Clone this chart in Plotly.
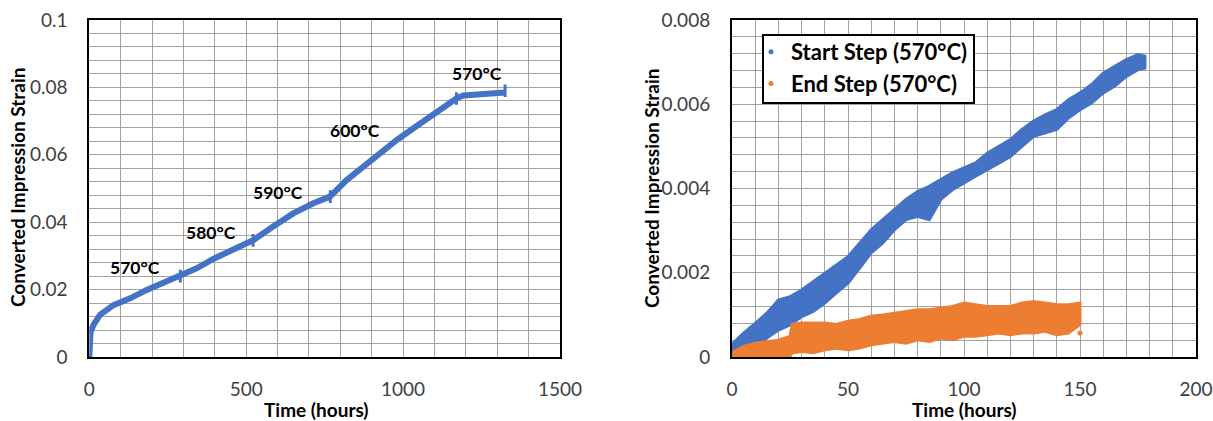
import plotly.graph_objects as go

# ---------------- Left chart data ----------------
left_time = [0, 1, 4, 13, 34, 77, 130, 183, 236, 289, 342, 395, 448, 523, 586, 650,
             714, 767, 820, 873, 926, 980, 1033, 1086, 1139, 1171, 1192, 1245, 1325]
left_strain = [0.0, 0.0045, 0.0075, 0.0095, 0.0125, 0.0154, 0.0174, 0.0199, 0.0219, 0.0240,
               0.0263, 0.0291, 0.0315, 0.0347, 0.0387, 0.0426, 0.0456, 0.0476, 0.0525, 0.0565,
               0.0606, 0.0644, 0.0679, 0.0713, 0.0745, 0.0768, 0.0776, 0.0780, 0.0785]
step_time = [290, 522, 768, 1170, 1325]
step_strain = [0.0240, 0.0346, 0.0476, 0.0767, 0.0790]
temp_labels = ["570°C", "580°C", "590°C", "600°C", "570°C"]
temp_label_time = [146, 388, 601, 847, 1235]
temp_label_strain = [0.0267, 0.0368, 0.0487, 0.0671, 0.0840]

# ---------------- Right chart data (band envelopes) ----------------
start_time = [0, 5, 10, 15, 20, 25, 30, 35, 40, 45, 50, 55, 60, 65, 70, 75, 80, 85, 90, 95,
              100, 105, 110, 115, 120, 125, 130, 135, 140, 145, 150, 155, 160, 165, 170, 175, 178]
start_high = [0.0003, 0.00057, 0.0008, 0.00104, 0.00135, 0.00143, 0.00159, 0.00179, 0.0020,
              0.00218, 0.00238, 0.0027, 0.00302, 0.00326, 0.0035, 0.00374, 0.00393, 0.00405,
              0.00421, 0.00437, 0.00449, 0.00461, 0.00484, 0.0050, 0.00516, 0.0054, 0.0056,
              0.00575, 0.00587, 0.00611, 0.00627, 0.00647, 0.00674, 0.0069, 0.00706, 0.00718, 0.00714]
start_low = [0.0, 0.00017, 0.00025, 0.00045, 0.00064, 0.00076, 0.00096, 0.00108, 0.00128,
             0.00152, 0.00175, 0.0021, 0.00247, 0.00271, 0.00302, 0.00326, 0.00334, 0.00326,
             0.00374, 0.00397, 0.00413, 0.00429, 0.00445, 0.0046, 0.00476, 0.0050, 0.00524,
             0.00532, 0.0054, 0.00567, 0.00587, 0.00603, 0.00627, 0.00643, 0.00666, 0.00682, 0.00686]

end_time = [0, 5, 10, 15, 20, 25, 26, 30, 35, 40, 45, 50, 55, 60, 65, 70, 75, 80, 85, 90, 95,
            100, 105, 110, 115, 120, 125, 130, 135, 140, 145, 150]
end_high = [0.0001, 0.00025, 0.00033, 0.00037, 0.0004, 0.00049, 0.00078, 0.00081, 0.00081,
            0.00081, 0.00077, 0.00085, 0.00089, 0.00097, 0.0010, 0.00104, 0.00108, 0.00112,
            0.00112, 0.00116, 0.0012, 0.00128, 0.00124, 0.0012, 0.0012, 0.0012, 0.00128,
            0.00132, 0.00128, 0.00124, 0.00124, 0.00128]
end_low = [0.0, 0.0, 0.0, 0.0, 0.0, 0.00002, 0.0001, 0.00013, 0.0001, 0.00017, 0.00021, 0.00017,
           0.00021, 0.00029, 0.00033, 0.00037, 0.00033, 0.00041, 0.00037, 0.00045, 0.00041,
           0.00049, 0.00049, 0.00053, 0.00057, 0.00053, 0.00057, 0.00057, 0.00061, 0.00053,
           0.00057, 0.00077]
end_outlier_time = [150]
end_outlier_strain = [0.00057]

BLUE = "#4472C4"
ORANGE = "#ED7D31"
FONT = "Lato"
GRID = "#a3a3a3"
TICKC = "#404040"

fig = go.Figure()

# left chart
fig.add_trace(go.Scatter(x=left_time, y=left_strain, mode="lines",
                         line=dict(color=BLUE, width=6), showlegend=False,
                         xaxis="x", yaxis="y"))
fig.add_trace(go.Scatter(x=[left_time[0]], y=[left_strain[0]], mode="markers",
                         marker=dict(color=BLUE, size=6), showlegend=False,
                         xaxis="x", yaxis="y"))
fig.add_trace(go.Scatter(x=step_time, y=step_strain, mode="markers",
                         marker=dict(symbol="line-ns-open", size=9, color=BLUE,
                                     line=dict(color=BLUE, width=3)),
                         showlegend=False, xaxis="x", yaxis="y"))

# right chart bands
def band(t, hi, lo, color):
    return go.Scatter(x=list(t) + list(t)[::-1], y=list(hi) + list(lo)[::-1],
                      mode="lines", fill="toself", fillcolor=color,
                      line=dict(color=color, width=3), showlegend=False,
                      xaxis="x2", yaxis="y2", hoverinfo="skip")

fig.add_trace(band(start_time, start_high, start_low, BLUE))
fig.add_trace(band(end_time, end_high, end_low, ORANGE))
fig.add_trace(go.Scatter(x=end_outlier_time, y=end_outlier_strain, mode="markers",
                         marker=dict(color=ORANGE, size=5), showlegend=False,
                         xaxis="x2", yaxis="y2"))
# legend entries
fig.add_trace(go.Scatter(x=[None], y=[None], mode="markers", name="Start Step (570°C)",
                         marker=dict(color=BLUE, size=5), xaxis="x2", yaxis="y2"))
fig.add_trace(go.Scatter(x=[None], y=[None], mode="markers", name="End Step (570°C)",
                         marker=dict(color=ORANGE, size=5), xaxis="x2", yaxis="y2"))

W, H = 1213, 421
ydom = [(H - 357) / H, (H - 20) / H]

def xax(dom, rng, dtick, minor, anchor):
    return dict(domain=dom, range=rng, dtick=dtick, tick0=0, anchor=anchor, showgrid=True,
                gridcolor=GRID, gridwidth=1,
                minor=dict(dtick=minor, showgrid=True, gridcolor=GRID, gridwidth=1),
                showline=True, mirror=True, linecolor="black", linewidth=2, zeroline=False,
                ticks="", tickfont=dict(family=FONT, size=19, color=TICKC),
                ticklabelstandoff=14, automargin=False, fixedrange=True)

def yax(anchor, rng, dtick, minor):
    return dict(domain=ydom, range=rng, dtick=dtick, tick0=0, anchor=anchor, showgrid=True,
                gridcolor=GRID, gridwidth=1,
                minor=dict(dtick=minor, showgrid=True, gridcolor=GRID, gridwidth=1),
                showline=True, mirror=True, linecolor="black", linewidth=2, zeroline=False,
                ticks="", tickfont=dict(family=FONT, size=19, color=TICKC),
                ticklabelstandoff=16, automargin=False, fixedrange=True)

annotations = []
for txt, tx, ty in zip(temp_labels, temp_label_time, temp_label_strain):
    annotations.append(dict(text=f"<b>{txt}</b>", x=tx, y=ty, xref="x", yref="y",
                            showarrow=False, font=dict(family=FONT, size=17.5, color="black")))

title_font = dict(family=FONT, size=19, color="black")
common = dict(xref="paper", yref="paper", showarrow=False, font=title_font,
              xanchor="center", yanchor="middle", borderpad=0)
annotations += [
    dict(text="<b>Converted Impression Strain</b>", x=18 / W, y=1 - 188 / H, textangle=-90, **common),
    dict(text="<b>Converted Impression Strain</b>", x=652 / W, y=1 - 189 / H, textangle=-90, **common),
    dict(text="<b>Time (hours)</b>", x=316 / W, y=1 - 409 / H, **common),
    dict(text="<b>Time (hours)</b>", x=964 / W, y=1 - 409 / H, **common),
]

shapes = [dict(type="rect", xref="paper", yref="paper",
               x0=763 / W, x1=974 / W, y0=1 - 103 / H, y1=1 - 35 / H,
               line=dict(color="black", width=2), fillcolor="white", layer="above")]

fig.update_layout(
    width=W, height=H, margin=dict(l=0, r=0, t=0, b=0),
    paper_bgcolor="white", plot_bgcolor="white",
    xaxis=xax([89.3 / W, 560 / W], [0, 1500], 500, 100, "y"),
    yaxis=yax("x", [0, 0.1], 0.02, 0.004),
    xaxis2=xax([732 / W, 1196 / W], [0, 200], 50, 10, "y2"),
    yaxis2=yax("x2", [0, 0.008], 0.002, 0.0004),
    annotations=annotations,
    shapes=shapes,
    legend=dict(x=(791 - 40) / W, y=1 - 31 / H, xanchor="left", yanchor="top",
                bgcolor="rgba(0,0,0,0)", borderwidth=0,
                font=dict(family=FONT, size=22, color="black", weight="bold"),
                itemwidth=30, tracegroupgap=0),
    showlegend=True,
)

fig.write_html("out.html")
